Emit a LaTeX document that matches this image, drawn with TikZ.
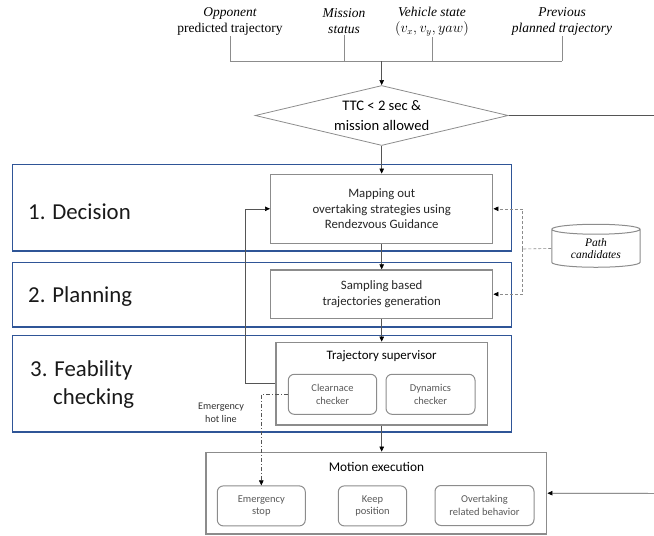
\documentclass[tikz,border=0pt]{standalone}
\usepackage{fontspec}
\setmainfont{Carlito}
\newfontfamily\cambria{Liberation Serif}
\usepackage{tikz}
\usetikzlibrary{arrows.meta, shapes.geometric, positioning, calc}
\definecolor{stageblue}{HTML}{2F5597}
\definecolor{boxgray}{HTML}{8C8C8C}
\definecolor{txtgray}{HTML}{595959}
\definecolor{wiregray}{HTML}{555555}

\begin{document}
\begin{tikzpicture}[x=1pt, y=-1pt,
	stagebox/.style={draw=stageblue, line width=1.2pt, minimum width=499, inner sep=0pt},
	stagelab/.style={inner sep=0pt, anchor=west, font=\fontsize{22.8}{27.3}\selectfont, text=black!90},
	procbox/.style={draw=boxgray, line width=1.4pt, align=center, inner sep=0pt, font=\fontsize{12.8}{15.7}\selectfont, text=black!85},
	subbox/.style={draw=boxgray, line width=1pt, rounded corners=6pt, align=center, inner sep=0pt, minimum height=40, font=\fontsize{10.5}{12.6}\selectfont, text=txtgray},
	toplab/.style={align=center, inner sep=1pt, font=\cambria\itshape\fontsize{13.5}{16}\selectfont},
	wire/.style={draw=wiregray, line width=0.6pt},
	arr/.style={wire, -{Triangle[length=5pt, width=4.5pt, color=black]}},
	dasharr/.style={arr, draw=boxgray, dash pattern=on 3pt off 2pt}]
	\useasboundingbox (0,0) rectangle (654,536);
	% inputs
	\node[toplab] (in1) at (230,21.3) {Opponent\\\upshape predicted trajectory};
	\node[toplab] (in2) at (344,21.3) {Mission\\status};
	\node[toplab] (in3) at (432,21.3) {Vehicle state\\$(v_x, v_y, yaw)$};
	\node[toplab] (in4) at (562,21.3) {Previous\\planned trajectory};
	\coordinate (bus) at (381.7,61);
	\foreach \i in {1,...,4}{\draw[wire, draw=boxgray] (in\i.south) -- (in\i.south |- bus);}
	\draw[wire, draw=boxgray] (in1.south |- bus) -- (in4.south |- bus);
	\node[draw=boxgray, line width=0.8pt, diamond, aspect=4.2, minimum width=253, minimum height=60, inner sep=0pt, align=center, font=\fontsize{14.6}{19.5}\selectfont] (ttc) at (381.7,115.5) {TTC < 2 sec \&\\mission allowed};
	\coordinate (ttcout) at (654,115.5);
	\draw[arr] (bus) -- (ttc.north);
	\draw[wire] (ttc.east) -- (ttcout);
	% stages
	\foreach \i/\y/\h in {1/207.7/86.5, 2/294.8/64.3, 3/383.8/96.3}
		\node[stagebox, minimum height=\h] (stage\i) at (262.2,\y) {};
	\node[stagelab] (lab1) at (28,212) {1. Decision};
	\node[stagelab] (lab2) at (28,296.7) {2. Planning};
	\node[stagelab, align=left] (lab3) at (30,384.5) {3. Feability\\\hspace{23pt}checking};
	% process boxes
	\node[procbox, minimum width=222, minimum height=69] (map) at (381.7,208.8) {Mapping out\\overtaking strategies using\\Rendezvous Guidance};
	\node[procbox, minimum width=222, minimum height=48.3] (samp) at (381.7,294.2) {Sampling based\\trajectories generation};
	\node[procbox, minimum width=211.3, minimum height=82.7] (sup) at (381.7,383.7) {};
	\node[inner sep=0pt, font=\fontsize{12.9}{14}\selectfont] (suptitle) at (381.7,356) {Trajectory supervisor};
	\node[subbox, minimum width=88.4] (clr) at (332.5,394.3) {Clearnace\\checker};
	\node[subbox, minimum width=89] (dyn) at (430.5,394.3) {Dynamics\\checker};
	\node[procbox, minimum width=340.7, minimum height=81.7] (mot) at (376.4,493.2) {};
	\node[inner sep=0pt, font=\fontsize{13.3}{14}\selectfont] (mottitle) at (376.4,466.7) {Motion execution};
	\node[subbox, minimum width=88] (estop) at (261.3,505.9) {Emergency\\stop};
	\node[subbox, minimum width=68.4] (keep) at (372.5,505.9) {Keep\\position};
	\node[subbox, minimum width=99] (ovt) at (484.5,505.5) {Overtaking\\related behavior};
	\node[draw=boxgray, line width=1pt, cylinder, shape border rotate=90, aspect=0.2, minimum width=88.3, minimum height=43, inner sep=0pt, align=center, font=\cambria\itshape\fontsize{11.5}{11.5}\selectfont] (db) at (595.9,248.5) {Path\\candidates};
	\node[align=center, inner sep=0pt, font=\fontsize{10.2}{13.3}\selectfont, text=black!80] (hot) at (221,412.7) {Emergency\\hot line};
	% connectors
	\draw[arr] (ttc.south) -- (map.north);
	\draw[arr] (map.south) -- (samp.north);
	\draw[arr] (samp.south) -- (sup.north);
	\draw[arr] (sup.south) -- (sup.south |- mot.north);
	\draw[arr] (sup.west) -- ++(-30.3,0) |- (map.west);
	\coordinate (pj) at (522.3,249);
	\draw[wire, draw=boxgray, dash pattern=on 3pt off 2pt] (db.west) -- (pj);
	\draw[dasharr] (pj) |- (map.east);
	\draw[dasharr] (pj) |- (samp.east);
	\draw[arr, dash pattern=on 4pt off 2pt on 1pt off 2pt] (clr.west) -| (estop.north);
	\coordinate (motin) at (654,493.3);
	\draw[arr] (motin) -- (mot.east);
\end{tikzpicture}
\end{document}
